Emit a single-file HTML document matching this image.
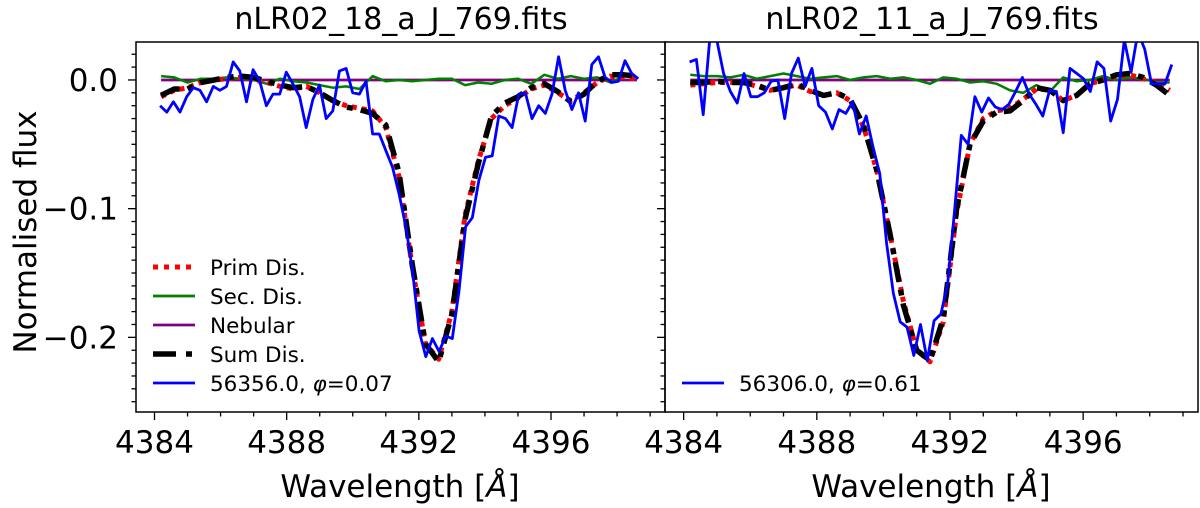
<!DOCTYPE html>
<html><head><meta charset="utf-8">
<style>
html,body{margin:0;padding:0;background:#fff;}
svg{display:block;font-family:"DejaVu Sans","Liberation Sans",sans-serif;}
</style></head>
<body>
<svg id="chart" width="1200" height="508" viewBox="0 0 1200 508" xmlns="http://www.w3.org/2000/svg">
<text x="401" y="29" font-size="30" text-anchor="middle">nLR02_18_a_J_769.fits</text>
<text x="932" y="29" font-size="30" text-anchor="middle">nLR02_11_a_J_769.fits</text>
<text transform="translate(36,232) rotate(-90)" font-size="31" text-anchor="middle">Normalised flux</text>
<text x="400" y="497" font-size="31" text-anchor="middle">Wavelength [<tspan font-style="italic">Å</tspan>]</text>
<text x="931" y="497" font-size="31" text-anchor="middle">Wavelength [<tspan font-style="italic">Å</tspan>]</text>
<g id="panels"></g>
</svg>
<script>
const xTicks = [4384, 4388, 4392, 4396];
const yTicks = [0.0, -0.1, -0.2];
const yTickLabels = ["0.0", "\u22120.1", "\u22120.2"];
const modelStart = 4384.2, modelStep = 0.4;
const leftPrim = [-0.013,-0.008,-0.006,-0.002,0.0,0.001,0.002,0.0,-0.002,-0.005,-0.007,-0.005,-0.01,-0.016,-0.02,-0.022,-0.024,-0.037,-0.075,-0.145,-0.205,-0.217,-0.18,-0.105,-0.063,-0.03,-0.02,-0.014,-0.007,-0.004,-0.01,-0.016,-0.01,-0.002,0.003,0.002,0.001];
const leftSum = [-0.012,-0.007,-0.007,-0.002,0.0,0.002,0.003,0.002,-0.001,-0.004,-0.006,-0.005,-0.01,-0.016,-0.021,-0.023,-0.026,-0.035,-0.072,-0.143,-0.205,-0.219,-0.182,-0.108,-0.065,-0.028,-0.018,-0.013,-0.006,-0.003,-0.009,-0.017,-0.011,-0.001,0.004,0.004,0.003];
const leftSec = [0.003,0.002,-0.002,0.001,0.001,0.002,0.001,0.0,-0.003,0.001,-0.001,-0.002,-0.004,-0.006,-0.005,-0.007,0.003,-0.001,0.0,-0.001,0.0,0.001,0.001,-0.004,-0.002,-0.003,0.0,0.001,-0.003,0.004,0.001,0.003,0.001,0.002,-0.002,0.003,0.002];
const rightPrim = [-0.004,-0.003,-0.002,-0.002,-0.002,-0.005,-0.008,-0.006,-0.004,-0.009,-0.012,-0.01,-0.016,-0.036,-0.07,-0.12,-0.172,-0.21,-0.219,-0.188,-0.103,-0.05,-0.03,-0.024,-0.022,-0.015,-0.007,-0.008,-0.016,-0.012,-0.003,0.0,0.003,0.004,0.001,-0.002,-0.008];
const rightSum = [-0.002,-0.002,-0.001,-0.002,-0.002,-0.004,-0.008,-0.006,-0.003,-0.008,-0.012,-0.01,-0.015,-0.035,-0.07,-0.12,-0.175,-0.21,-0.218,-0.185,-0.1,-0.05,-0.032,-0.025,-0.024,-0.016,-0.006,-0.008,-0.016,-0.012,-0.003,0.0,0.004,0.005,0.002,-0.004,-0.012];
const rightSec = [0.004,0.003,0.003,0.002,0.004,0.001,0.003,0.005,0.003,0.001,0.002,0.003,0.0,0.002,0.003,0.001,0.002,0.0,-0.003,0.002,0.001,-0.002,-0.001,-0.003,-0.008,-0.01,-0.004,-0.009,0.002,-0.001,0.0,0.003,0.0,0.002,0.001,-0.002,-0.002];
const leftObsStart = 4384.17, leftObsStep = 0.201;
const leftObs = [-0.020,-0.025,-0.017,-0.025,-0.013,-0.006,-0.008,-0.017,-0.005,-0.008,-0.005,0.014,0.007,-0.017,0.008,-0.001,-0.020,-0.011,-0.011,0.006,-0.003,-0.013,-0.037,-0.015,-0.004,-0.030,-0.024,0.007,0.009,-0.010,-0.011,-0.001,-0.042,-0.042,-0.055,-0.068,-0.089,-0.114,-0.148,-0.195,-0.215,-0.201,-0.211,-0.199,-0.201,-0.164,-0.114,-0.107,-0.078,-0.060,-0.059,-0.028,-0.030,-0.037,-0.011,-0.010,-0.030,-0.020,-0.026,-0.011,0.018,-0.008,-0.023,-0.010,-0.032,0.012,0.018,0.002,-0.002,-0.001,0.015,0.005,0.001];
const rightObsStart = 4384.18, rightObsStep = 0.204;
const rightObs = [0.014,0.016,-0.027,0.034,0.031,0.005,-0.009,-0.018,0.005,-0.013,-0.013,-0.010,-0.001,0.0,-0.030,0.005,0.017,-0.005,0.009,-0.020,-0.025,-0.038,-0.023,-0.026,-0.017,-0.042,-0.028,-0.052,-0.073,-0.127,-0.166,-0.188,-0.192,-0.214,-0.190,-0.218,-0.187,-0.182,-0.158,-0.102,-0.043,-0.050,-0.013,-0.025,-0.014,-0.021,-0.023,-0.019,-0.009,0.002,-0.011,-0.019,-0.028,-0.008,-0.009,-0.041,0.009,0.005,0.001,-0.009,0.014,0.009,-0.032,-0.015,0.031,0.006,0.037,0.024,-0.003,-0.003,-0.003,0.012];
const nebular = [0.0, 0.0];
const nebularWl = [4384.2, 4398.6];

const NS = "http://www.w3.org/2000/svg";
const yTop = 42, yBot = 412;
const yMax = 0.0295, yMin = -0.258;
const xMin = 4383.44, xMax = 4399.45;
const panelsG = document.getElementById('panels');
function mk(tag, attrs, parent){ const e=document.createElementNS(NS,tag); for(const k in attrs) e.setAttribute(k,attrs[k]); parent.appendChild(e); return e; }

function drawPanel(px0, px1, name, prim, sum, sec, obs, obsStart, obsStep, obsLabel, fullLegend){
  const g = mk('g',{},panelsG);
  
  
  const sx = w => px0 + (w - xMin) / (xMax - xMin) * (px1 - px0);
  const sy = v => yTop + (yMax - v) / (yMax - yMin) * (yBot - yTop);
  const clipId = name + '-clip';
  const cp = mk('clipPath',{id:clipId},g);
  mk('rect',{x:px0,y:yTop,width:px1-px0,height:yBot-yTop},cp);
  const plot = mk('g',{'clip-path':'url(#'+clipId+')'},g);
  function line(vals, wl0, step, style, nm){
    const pts = vals.map((v,i)=>sx(wl0+i*step).toFixed(1)+','+sy(v).toFixed(1)).join(' ');
    const p = mk('polyline',Object.assign({points:pts,fill:'none','stroke-linejoin':'round'},style),plot);
    
    
  }
  const nebPts = nebular.map((v,i)=>sx(nebularWl[i]).toFixed(1)+','+sy(v).toFixed(1)).join(' ');
  const nl = mk('polyline',{points:nebPts,fill:'none',stroke:'#800080','stroke-width':2.8},plot);
  
  
  line(sec, modelStart, modelStep, {stroke:'#008000','stroke-width':2.5}, 'secondary-line');
  line(prim, modelStart, modelStep, {stroke:'#ff0000','stroke-width':5,'stroke-dasharray':'5 5'}, 'primary-line');
  line(sum, modelStart, modelStep, {stroke:'#000','stroke-width':5.5,'stroke-dasharray':'20 8 6 8'}, 'sum-line');
  line(obs, obsStart, obsStep, {stroke:'#0000ff','stroke-width':2.8}, 'observed-spectrum');
  const fr = mk('rect',{x:px0,y:yTop,width:px1-px0,height:yBot-yTop,fill:'none',stroke:'#000','stroke-width':1.5},g);
  
  
  for(let w=4384; w<=4399; w++){
    const major = xTicks.includes(w);
    mk('line',{x1:sx(w),x2:sx(w),y1:yBot,y2:yBot+(major?8:4.5),stroke:'#000','stroke-width':1.3},g);
  }
  xTicks.forEach(w=>{
    const t = mk('text',{x:sx(w),y:453,'font-size':31,'text-anchor':'middle'},g);
    t.textContent = String(w);
    
    
  });
  for(let k=2; k>=-25; k--){
    const v = k/100;
    const major = (k % 10 === 0);
    mk('line',{x1:px0-(major?8:4.5),x2:px0,y1:sy(v),y2:sy(v),stroke:'#000','stroke-width':1.3},g);
  }
  if(fullLegend){
    yTicks.forEach((v,i)=>{
      const t = mk('text',{x:px0-18,y:sy(v)+11,'font-size':31,'text-anchor':'end'},g);
      t.textContent = yTickLabels[i];
      
      
    });
  }
  const lg = mk('g',{},g);
  
  
  const entries = fullLegend ? [
    ['Prim Dis.', {stroke:'#ff0000','stroke-width':5,'stroke-dasharray':'5 6'}],
    ['Sec. Dis.', {stroke:'#008000','stroke-width':2.8}],
    ['Nebular', {stroke:'#800080','stroke-width':2.8}],
    ['Sum Dis.', {stroke:'#000','stroke-width':5.5,'stroke-dasharray':'23 10 6 10'}],
    [obsLabel, {stroke:'#0000ff','stroke-width':2.8}]
  ] : [[obsLabel, {stroke:'#0000ff','stroke-width':2.8}]];
  const startY = fullLegend ? 267 : 383;
  entries.forEach((e,i)=>{
    const y = startY + i*29;
    const gi = mk('g',{},lg);
    
    
    mk('line',Object.assign({x1:px0+17,x2:px0+59,y1:y,y2:y},e[1]),gi);
    const t = mk('text',{x:px0+74,y:y+8,'font-size':21.5},gi);
    if(e[0].includes('φ')){
      const parts = e[0].split('φ');
      t.appendChild(document.createTextNode(parts[0]));
      const ts = mk('tspan',{'font-style':'italic'},t); ts.textContent='φ';
      t.appendChild(document.createTextNode(parts[1]));
    } else t.textContent = e[0];
  });
}
drawPanel(136, 665, 'left-panel', leftPrim, leftSum, leftSec, leftObs, leftObsStart, leftObsStep, '56356.0, φ=0.07', true);
drawPanel(665, 1198, 'right-panel', rightPrim, rightSum, rightSec, rightObs, rightObsStart, rightObsStep, '56306.0, φ=0.61', false);
</script>
</body></html>
